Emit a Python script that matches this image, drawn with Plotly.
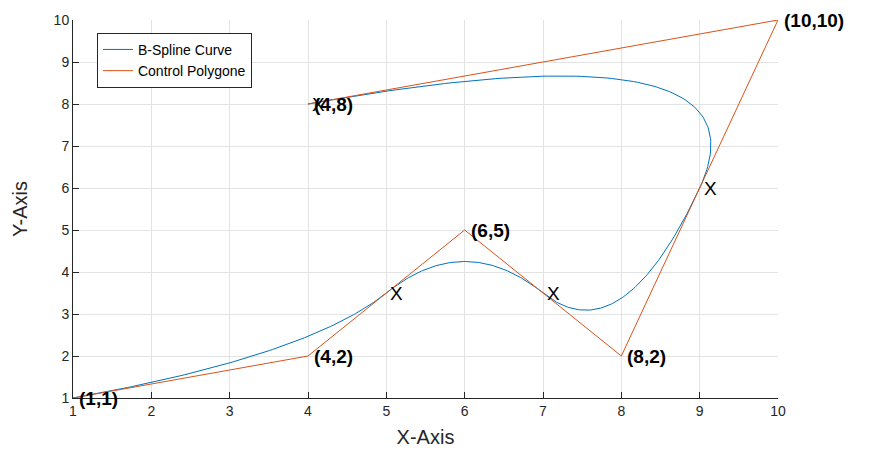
import numpy as np
import plotly.graph_objects as go

# Control polygon (data)
ctrl_x = [1, 4, 6, 8, 10, 4]
ctrl_y = [1, 2, 5, 2, 10, 8]
degree = 2
knots = [0, 0, 0, 1, 2, 3, 4, 4, 4]  # clamped uniform knot vector

# Points marked with "X" (curve at interior knots and end)
mark_x = [5, 7, 9, 4]
mark_y = [3.5, 3.5, 6, 8]

# Labels of control points
label_x = [1, 4, 6, 8, 10, 4]
label_y = [1, 2, 5, 2, 10, 8]
label_txt = ["(1,1)", "(4,2)", "(6,5)", "(8,2)", "(10,10)", "(4,8)"]


def basis(i, k, t, kv):
    if k == 0:
        if kv[i] <= t < kv[i + 1] or (t == kv[-1] and kv[i] < kv[i + 1] == kv[-1]):
            return 1.0
        return 0.0
    a = 0.0
    if kv[i + k] != kv[i]:
        a = (t - kv[i]) / (kv[i + k] - kv[i]) * basis(i, k - 1, t, kv)
    b = 0.0
    if kv[i + k + 1] != kv[i + 1]:
        b = (kv[i + k + 1] - t) / (kv[i + k + 1] - kv[i + 1]) * basis(i + 1, k - 1, t, kv)
    return a + b


ts = np.linspace(knots[0], knots[-1], 400)
cx, cy = [], []
for t in ts:
    w = [basis(i, degree, t, knots) for i in range(len(ctrl_x))]
    cx.append(sum(wi * p for wi, p in zip(w, ctrl_x)))
    cy.append(sum(wi * p for wi, p in zip(w, ctrl_y)))

BLUE = "#0072BD"
ORANGE = "#D95319"
FONT = "Liberation Sans, Arial, Helvetica, sans-serif"

fig = go.Figure()
fig.add_trace(go.Scatter(x=cx, y=cy, mode="lines", name="B-Spline Curve",
                         line=dict(color=BLUE, width=1)))
fig.add_trace(go.Scatter(x=ctrl_x, y=ctrl_y, mode="lines", name="Control Polygone",
                         line=dict(color=ORANGE, width=1)))

annotations = []
for x, y in zip(mark_x, mark_y):
    annotations.append(dict(x=x, y=y, xref="x", yref="y", text="X", showarrow=False,
                            xanchor="left", yanchor="middle", xshift=2,
                            font=dict(size=19, color="#000000", family=FONT)))
for x, y, s in zip(label_x, label_y, label_txt):
    annotations.append(dict(x=x, y=y, xref="x", yref="y", text="<b>" + s + "</b>",
                            showarrow=False, xanchor="left", yanchor="middle", xshift=4,
                            font=dict(size=19, color="#000000", family=FONT)))

axis_common = dict(
    range=[1, 10], dtick=1, tick0=1,
    showgrid=True, gridcolor="#e3e3e3", gridwidth=1,
    showline=True, linecolor="#262626", linewidth=1,
    ticks="inside", ticklen=6, tickcolor="#262626",
    tickfont=dict(size=14, color="#262626", family=FONT),
    zeroline=False, mirror=False,
)

fig.update_layout(
    width=870, height=457,
    margin=dict(l=73, r=92, t=17, b=59),
    paper_bgcolor="white", plot_bgcolor="white",
    font=dict(family=FONT, color="#262626"),
    xaxis=dict(axis_common, title=dict(text="X-Axis", font=dict(size=20, color="#262626"), standoff=12)),
    yaxis=dict(axis_common, title=dict(text="Y-Axis", font=dict(size=20, color="#262626"), standoff=20)),
    legend=dict(x=0.034, y=0.966, xanchor="left", yanchor="top",
                bgcolor="white", bordercolor="#262626", borderwidth=1,
                font=dict(size=14, color="#000000", family=FONT),
                tracegroupgap=0, itemwidth=30),
    annotations=annotations,
    showlegend=True,
)

fig.write_html("out.html")
